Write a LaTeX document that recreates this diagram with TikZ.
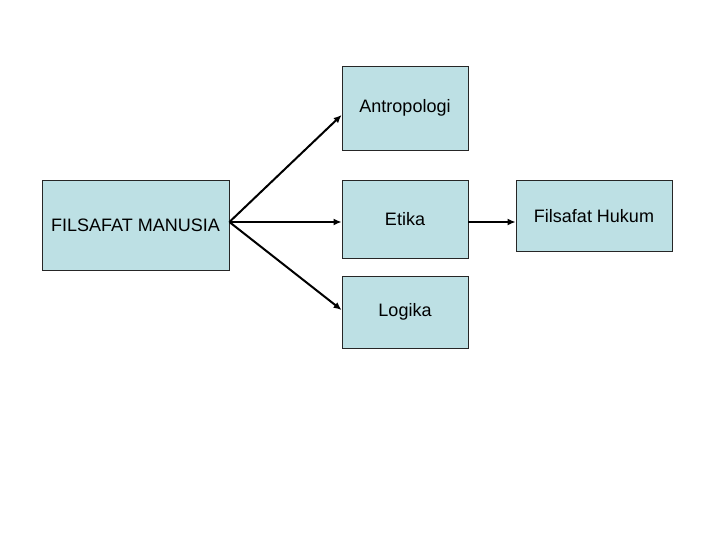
\documentclass[tikz,border=0pt]{standalone}
\usepackage{fontspec}
\setmainfont{Liberation Sans}
\usetikzlibrary{arrows.meta}

\definecolor{boxblue}{RGB}{189,224,228}

\begin{document}
\begin{tikzpicture}[x=1pt,y=-1pt,
    topic/.style={draw=black!85,fill=boxblue,line width=0.8pt,inner sep=0pt,font=\fontsize{18}{21}\selectfont},
    link/.style={-{Latex[length=8pt,width=7pt]},line width=2pt}]
   \useasboundingbox (0,0) rectangle (720,540);
   \node[topic,minimum width=187pt,minimum height=90pt] (fm) at (135.5,225) {FILSAFAT MANUSIA};
   \node[topic,minimum width=126pt,minimum height=84pt] (antro) at (405,108) {Antropologi};
   \node[topic,minimum width=126pt,minimum height=78pt] (etika) at (405,219) {Etika};
   \node[topic,minimum width=126pt,minimum height=72pt] (logika) at (405,312) {Logika};
   \node[topic,minimum width=156pt,minimum height=71pt] (hukum) at (594,216) {Filsafat Hukum};
    \draw[link] ([yshift=3pt]fm.east) -- ([yshift=-7pt]antro.west);
    \draw[link] ([yshift=3pt]fm.east) -- ([yshift=-3pt]etika.west);
    \draw[link] ([yshift=3pt]fm.east) -- ([yshift=2pt]logika.west);
    \draw[link] ([yshift=-3pt]etika.east) -- ([yshift=-6pt]hukum.west);
\end{tikzpicture}
\end{document}
